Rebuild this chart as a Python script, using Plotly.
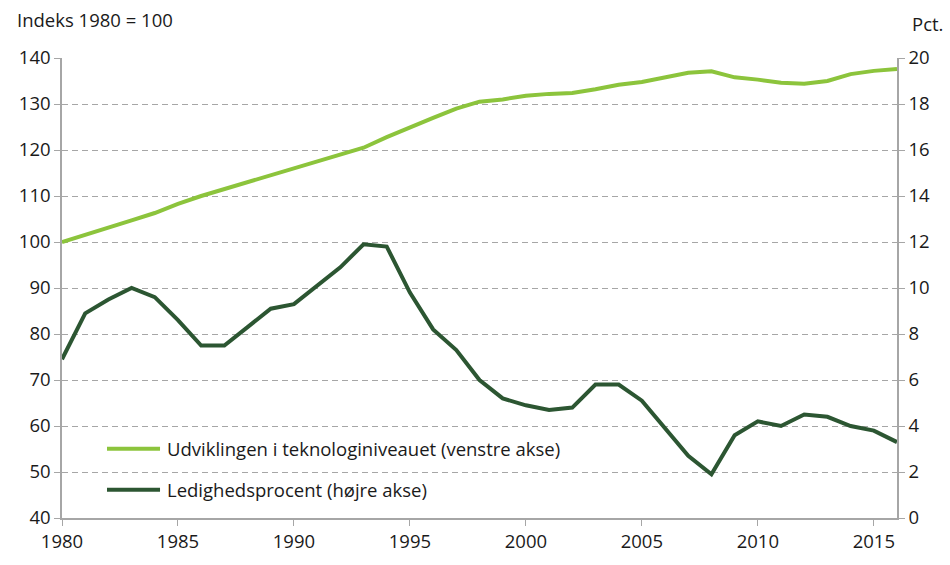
import plotly.graph_objects as go

years = list(range(1980, 2017))
tech_index = [100, 101.5, 103, 104.7, 106.3, 108.3, 110, 111.5, 113.2, 114.5,
              116, 117.5, 119.2, 120.5, 122.8, 125, 127, 129, 130.5, 131,
              131.8, 132.2, 132.4, 133.2, 134.2, 134.8, 135.8, 136.8, 137.1, 135.8,
              135.3, 134.6, 134.4, 135, 136.5, 137.2, 137.6]
unemployment = [6.9, 8.9, 9.5, 10.0, 9.6, 8.6, 7.5, 7.5, 8.3, 9.1,
                9.3, 10.1, 10.9, 11.9, 11.8, 9.8, 8.2, 7.3, 6.0, 5.2,
                4.9, 4.7, 4.8, 5.8, 5.8, 5.1, 3.9, 2.7, 1.9, 3.6,
                4.2, 4.0, 4.5, 4.4, 4.0, 3.8, 3.3]
names = ["Udviklingen i teknologiniveauet (venstre akse)", "Ledighedsprocent (højre akse)"]
colors = ["#8cc43c", "#2c5632"]
left_ticks = list(range(40, 141, 10))
right_ticks = list(range(0, 21, 2))
x_ticks = list(range(1980, 2016, 5))

FONT = "Open Sans, Noto Sans, sans-serif"
FS = 18.5
TXT = "#1a1a1a"

fig = go.Figure()
fig.add_trace(go.Scatter(x=years, y=tech_index, name=names[0], mode="lines",
                         line=dict(color=colors[0], width=4), yaxis="y", showlegend=False))
fig.add_trace(go.Scatter(x=years, y=unemployment, name=names[1], mode="lines",
                         line=dict(color=colors[1], width=4), yaxis="y2", showlegend=False))

axis_col = "#a6a6a6"

# manual legend (line sample + label) in plot-area paper coordinates
leg_y = [0.1507, 0.0616]
shapes = []
annotations = []
for name, col, yy in zip(names, colors, leg_y):
    shapes.append(dict(type="line", xref="paper", yref="paper", x0=0.0539, x1=0.1174,
                       y0=yy, y1=yy, line=dict(color=col, width=4)))
    annotations.append(dict(text=name, xref="paper", yref="paper", x=0.1234, y=yy,
                            xanchor="left", yanchor="middle", showarrow=False,
                            font=dict(size=FS, color=TXT)))

annotations += [
    dict(text="Indeks 1980 = 100", xref="paper", yref="paper", x=-0.0563, y=1.083,
         xanchor="left", yanchor="middle", showarrow=False, font=dict(size=FS, color=TXT)),
    dict(text="Pct.", xref="paper", yref="paper", x=1.0575, y=1.074,
         xanchor="right", yanchor="middle", showarrow=False, font=dict(size=FS, color=TXT)),
]

fig.update_layout(
    width=950, height=565,
    margin=dict(l=62, r=53, t=58, b=25),
    paper_bgcolor="white", plot_bgcolor="white",
    font=dict(family=FONT, size=FS, color=TXT),
    showlegend=False,
    xaxis=dict(range=[1980, 2016], tickvals=x_ticks, ticks="outside", ticklen=6,
               tickcolor=axis_col, showline=True, linecolor=axis_col, linewidth=1.5,
               showgrid=False, zeroline=False, tickfont=dict(size=FS, color=TXT)),
    yaxis=dict(range=[40, 140], tickvals=left_ticks, ticks="outside", ticklen=6,
               tickcolor=axis_col, showline=True, linecolor=axis_col, linewidth=1.5,
               showgrid=True, gridcolor="#a6a6a6", griddash="6px,4px", gridwidth=1,
               zeroline=False, tickfont=dict(size=FS, color=TXT)),
    yaxis2=dict(range=[0, 20], tickvals=right_ticks, overlaying="y", side="right",
                ticks="outside", ticklen=6, tickcolor=axis_col, showline=True,
                linecolor=axis_col, linewidth=1.5, showgrid=False, zeroline=False,
                tickfont=dict(size=FS, color=TXT)),
    shapes=shapes,
    annotations=annotations,
)

post = (
    "var s=document.createElement('style');"
    "s.textContent='html,body{margin:0;padding:0;height:565px;overflow:hidden;}';"
    "document.head.appendChild(s);"
)
fig.write_html("out.html", config={"displayModeBar": False}, post_script=post)
